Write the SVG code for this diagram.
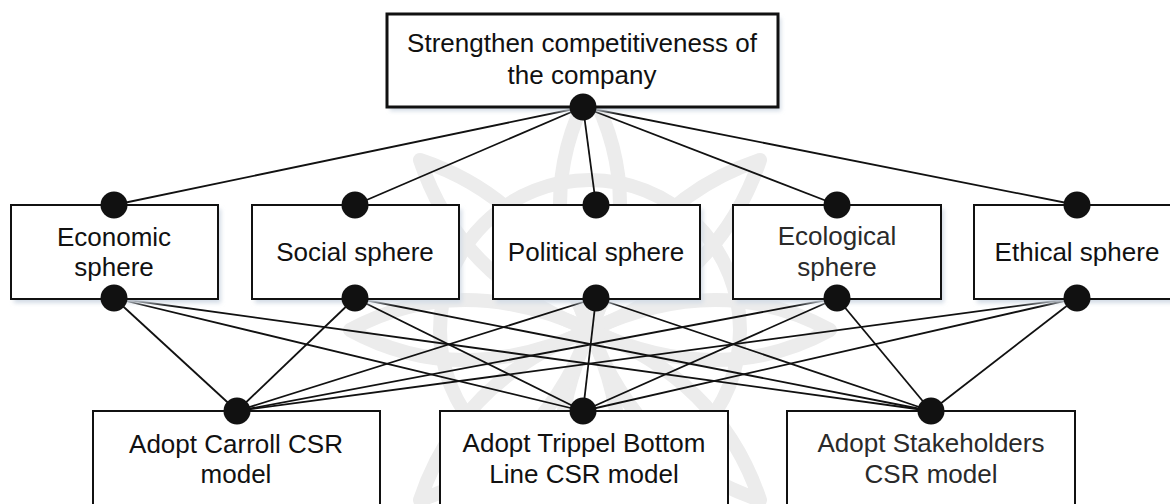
<svg xmlns="http://www.w3.org/2000/svg" width="1170" height="504" viewBox="0 0 1170 504">
<style>
.box{fill:#fff;stroke:#111;stroke-width:2}
.top{stroke-width:3}
.sh{fill:#d3dce6;filter:url(#blur)}
.t{font-family:"Liberation Sans",Arial,sans-serif;font-size:26px;fill:#111;text-anchor:middle}
.c line{stroke:#111;stroke-width:1.8}
.dot{fill:#111}
.wm{fill:none;stroke:#ececec;stroke-width:14;stroke-linejoin:round}
</style>
<defs>
<filter id="blur" x="-10%" y="-10%" width="120%" height="120%"><feGaussianBlur stdDeviation="2"/></filter>
</defs>
<rect width="1170" height="504" fill="#fff"/>
<g id="watermark" class="wm">
<path d="M590 90 Q650 200 590 330 Q530 200 590 90 Z"/>
<path d="M590 570 Q650 460 590 330 Q530 460 590 570 Z"/>
<path d="M350 330 Q460 270 590 330 Q460 390 350 330 Z"/>
<path d="M830 330 Q720 270 590 330 Q720 390 830 330 Z"/>
<path d="M420 160 Q540 200 590 330 Q460 280 420 160 Z"/>
<path d="M760 160 Q640 200 590 330 Q720 280 760 160 Z"/>
<path d="M420 500 Q540 460 590 330 Q460 380 420 500 Z"/>
<path d="M760 500 Q640 460 590 330 Q720 380 760 500 Z"/>
<circle cx="590" cy="330" r="150"/>
</g>
<g id="connectors" class="c">
<line x1="583" y1="107" x2="114" y2="205"/>
<line x1="583" y1="107" x2="355" y2="205"/>
<line x1="583" y1="107" x2="596" y2="205"/>
<line x1="583" y1="107" x2="837" y2="205"/>
<line x1="583" y1="107" x2="1077" y2="205"/>
<line x1="114" y1="298" x2="237" y2="411"/>
<line x1="114" y1="298" x2="583" y2="411"/>
<line x1="114" y1="298" x2="931" y2="411"/>
<line x1="355" y1="298" x2="237" y2="411"/>
<line x1="355" y1="298" x2="583" y2="411"/>
<line x1="355" y1="298" x2="931" y2="411"/>
<line x1="596" y1="298" x2="237" y2="411"/>
<line x1="596" y1="298" x2="583" y2="411"/>
<line x1="596" y1="298" x2="931" y2="411"/>
<line x1="837" y1="298" x2="237" y2="411"/>
<line x1="837" y1="298" x2="583" y2="411"/>
<line x1="837" y1="298" x2="931" y2="411"/>
<line x1="1077" y1="298" x2="237" y2="411"/>
<line x1="1077" y1="298" x2="583" y2="411"/>
<line x1="1077" y1="298" x2="931" y2="411"/>
</g>
<g id="goal">
<rect class="sh" x="390" y="18" width="391" height="93"/>
<rect class="box top" x="387" y="14" width="391" height="93"/>
<text class="t" x="582" y="52">Strengthen competitiveness of</text>
<text class="t" x="582" y="84">the company</text>
<circle class="dot" cx="583" cy="107" r="13.5"/>
</g>
<g id="economic">
<rect class="sh" x="14" y="209" width="207" height="94"/>
<rect class="box" x="11" y="205" width="207" height="94"/>
<text class="t" x="114" y="246">Economic</text>
<text class="t" x="114" y="276">sphere</text>
<circle class="dot" cx="114" cy="205" r="13.5"/>
<circle class="dot" cx="114" cy="298" r="13.5"/>
</g>
<g id="social">
<rect class="sh" x="255" y="209" width="207" height="94"/>
<rect class="box" x="252" y="205" width="207" height="94"/>
<text class="t" x="355" y="261">Social sphere</text>
<circle class="dot" cx="355" cy="205" r="13.5"/>
<circle class="dot" cx="355" cy="298" r="13.5"/>
</g>
<g id="political">
<rect class="sh" x="496" y="209" width="207" height="94"/>
<rect class="box" x="493" y="205" width="207" height="94"/>
<text class="t" x="596" y="261">Political sphere</text>
<circle class="dot" cx="596" cy="205" r="13.5"/>
<circle class="dot" cx="596" cy="298" r="13.5"/>
</g>
<g id="ecological">
<rect class="sh" x="736" y="209" width="208" height="94"/>
<rect class="box" x="733" y="205" width="208" height="94"/>
<text class="t" x="837" y="245" style="fill:#2a2a2a">Ecological</text>
<text class="t" x="837" y="276" style="fill:#2a2a2a">sphere</text>
<circle class="dot" cx="837" cy="205" r="13.5"/>
<circle class="dot" cx="837" cy="298" r="13.5"/>
</g>
<g id="ethical">
<rect class="sh" x="977" y="209" width="207" height="94"/>
<rect class="box" x="974" y="205" width="207" height="94"/>
<text class="t" x="1077" y="261">Ethical sphere</text>
<circle class="dot" cx="1077" cy="205" r="13.5"/>
<circle class="dot" cx="1077" cy="298" r="13.5"/>
</g>
<g id="carroll">
<rect class="box" x="93" y="411" width="287" height="120"/>
<text class="t" x="236" y="453">Adopt Carroll CSR</text>
<text class="t" x="236" y="483">model</text>
<circle class="dot" cx="237" cy="411" r="13.5"/>
</g>
<g id="tbl">
<rect class="box" x="440" y="411" width="288" height="120"/>
<text class="t" x="584" y="452">Adopt Trippel Bottom</text>
<text class="t" x="584" y="483">Line CSR model</text>
<circle class="dot" cx="583" cy="411" r="13.5"/>
</g>
<g id="stakeholders">
<rect class="box" x="787" y="411" width="288" height="120"/>
<text class="t" x="931" y="452" style="fill:#2a2a2a">Adopt Stakeholders</text>
<text class="t" x="931" y="483" style="fill:#2a2a2a">CSR model</text>
<circle class="dot" cx="931" cy="411" r="13.5"/>
</g>
</svg>
